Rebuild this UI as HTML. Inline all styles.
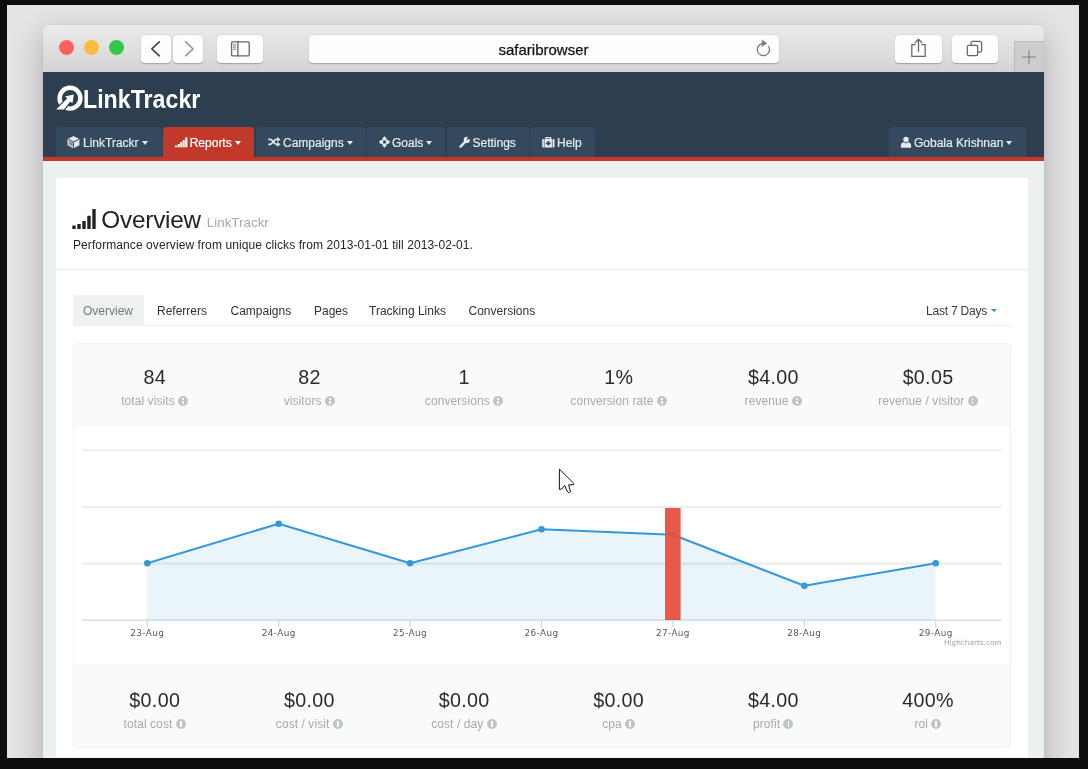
<!DOCTYPE html>
<html lang="en">
<head>
<meta charset="utf-8">
<title>LinkTrackr - Overview</title>
<style>
*{box-sizing:border-box;margin:0;padding:0}
html,body{width:1088px;height:769px;overflow:hidden;background:#0e0e0e}
body{font-family:"Liberation Sans",sans-serif;font-size:12px;color:#333;position:relative}
.abs{position:absolute}
#desk{left:7px;top:5px;width:1072px;height:753px;background:#e4e4e4;overflow:hidden}
#win{left:36px;top:20px;width:1001px;height:760px;border-radius:6px 6px 0 0;background:#ecf0f1;box-shadow:0 12px 30px 3px rgba(0,0,0,.21),0 0 1px rgba(0,0,0,.3);overflow:hidden}
/* everything inside #win uses window coordinates: origin = (43,25) in page */
#tbar{left:0;top:0;width:1001px;height:47px;background:linear-gradient(#ebebeb,#d4d4d4)}
.btn{background:#fdfdfd;border-radius:4px;box-shadow:0 .6px 1.2px rgba(0,0,0,.26);height:27.5px;top:10px}
.tl{width:15px;height:15px;border-radius:50%;top:15px}
#hdr{left:0;top:47px;width:1001px;height:85px;background:#2c3e50}
#redbar{left:0;top:132px;width:1001px;height:4px;background:#c8362a}
.nt{top:102px;height:30px;background:#34495e;border-radius:3px 3px 0 0;color:#e3e8ea;font-size:12px;line-height:30px;white-space:nowrap;-webkit-text-stroke:.22px currentColor}
.nt.on{background:#c0392b;color:#fff}
.nt span{position:absolute;top:.6px}
.caret{position:absolute;width:0;height:0;border-left:3.9px solid transparent;border-right:3.9px solid transparent;border-top:4.3px solid currentColor;top:13.8px;margin-left:-.4px}
#panel{left:13px;top:153px;width:972px;height:700px;background:#fff;border-radius:3px}
.tab{top:270px;height:31px;line-height:32.2px;font-size:12px;color:#3a3a3a;white-space:nowrap}
.num{font-size:19.7px;letter-spacing:.3px;padding-left:.3px;color:#2b2b2b;text-align:center;width:155px;white-space:nowrap;line-height:20px}
.lbl{font-size:12px;letter-spacing:.08px;color:#a9a9a9;text-align:center;width:155px;white-space:nowrap;line-height:14px}
.lbl i{display:inline-block;width:10px;height:10px;border-radius:50%;background:#bcc5ca;vertical-align:-1.1px;margin-left:3.3px;position:relative}
.lbl i:before{content:"";position:absolute;left:4.1px;top:1.8px;width:1.8px;height:1.7px;background:#fafafa}
.lbl i:after{content:"";position:absolute;left:4.1px;top:4.2px;width:1.8px;height:3.8px;background:#fafafa}
</style>
</head>
<body>
<div id="desk" class="abs">
<div id="win" class="abs">

<!-- ===== Safari title bar ===== -->
<div id="tbar" class="abs">
  <div class="abs tl" style="left:16.1px;background:#fc615d"></div>
  <div class="abs tl" style="left:41.1px;background:#fdbc40"></div>
  <div class="abs tl" style="left:66.1px;background:#34c84a"></div>
  <div class="abs btn" style="left:98px;width:30px"></div>
  <div class="abs btn" style="left:130px;width:30px"></div>
  <div class="abs btn" style="left:174px;width:46px"></div>
  <div class="abs btn" style="left:265.5px;width:470px;text-align:center;line-height:29px;font-size:15px;color:#111;-webkit-text-stroke:.25px #111">safaribrowser</div>
  <div class="abs btn" style="left:852px;width:46.5px"></div>
  <div class="abs btn" style="left:908.5px;width:46px"></div>
  <div class="abs" style="left:971px;top:16px;width:30px;height:31px;background:#cdcdcd;border-left:1px solid #bbb;border-top:1px solid #bbb"></div>
  <svg class="abs" style="left:0;top:0" width="1001" height="47" viewBox="0 0 1001 47" fill="none" stroke="#666" stroke-width="1.6" stroke-linecap="round" stroke-linejoin="round">
    <path d="M116.3 16.8 L108.8 23.8 L116.3 30.8" stroke="#444"/>
    <path d="M142.6 16.8 L150.1 23.8 L142.6 30.8" stroke="#9a9a9a"/>
    <rect x="188.6" y="16.9" width="17.6" height="14" rx="1.2" stroke-width="1.3"/>
    <path d="M194.9 16.9 V30.9" stroke-width="1.3"/>
    <path d="M190.4 19.8h2.4M190.4 22h2.4M190.4 24.2h2.4" stroke-width=".9"/>
    <path d="M720.6 18.5 a6.1 6.1 0 1 0 5 3" stroke-width="1.2" stroke="#757575"/>
    <path d="M719.4 15.2 L723.6 18.3 L719.2 21.3 Z" stroke-width=".6" stroke="#757575" fill="#757575"/>
    <path d="M872.2 19.6 h-3.4 v11.8 h13.4 v-11.8 h-3.4" stroke-width="1.25"/>
    <path d="M875.5 26.5 V14.6 M872.2 17.6 L875.5 14.3 L878.8 17.6" stroke-width="1.25"/>
    <rect x="924.3" y="20.3" width="10.4" height="10.4" rx="1.6" stroke-width="1.25"/>
    <path d="M928 20.3 v-2.3 a1.6 1.6 0 0 1 1.6 -1.6 h7.4 a1.6 1.6 0 0 1 1.6 1.6 v7.4 a1.6 1.6 0 0 1 -1.6 1.6 h-2.3" stroke-width="1.25"/>
    <path d="M979.5 32 h13 M986 25.5 v13" stroke="#808080" stroke-width="1.1"/>
  </svg>
</div>

<!-- ===== App header ===== -->
<div id="hdr" class="abs"></div>
<div id="redbar" class="abs"></div>

<!-- logo -->
<svg class="abs" style="left:7px;top:55px" width="40" height="36" viewBox="50 80 40 36" fill="none">
  <circle cx="70" cy="98.2" r="10.4" stroke="#fff" stroke-width="4.4"/>
  <path d="M56.2 109.5 L63.9 109.5 L70.3 101.6 L72.4 103.2 L73.9 94.4 L64.9 96.5 L67.4 98.3 Z" fill="#fff" stroke="#2c3e50" stroke-width="2.4" stroke-linejoin="round" paint-order="stroke"/>
  <path d="M53 109.9 H57 L56 112 H52 Z" fill="#2c3e50"/>
</svg>
<div class="abs" style="left:40.3px;top:59.4px;font-size:26px;font-weight:bold;color:#fff;line-height:30px;white-space:nowrap;transform:scaleX(.892);transform-origin:0 0">LinkTrackr</div>

<!-- nav tabs -->
<div class="abs nt" style="left:13px;width:106px"><span style="left:27px">LinkTrackr</span><b class="caret" style="left:86px"></b></div>
<div class="abs nt on" style="left:120.2px;width:90.6px"><span style="left:26.5px">Reports</span><b class="caret" style="left:72px"></b></div>
<div class="abs nt" style="left:213px;width:110px"><span style="left:27px">Campaigns</span><b class="caret" style="left:91px"></b></div>
<div class="abs nt" style="left:324px;width:78px"><span style="left:25px">Goals</span><b class="caret" style="left:59px"></b></div>
<div class="abs nt" style="left:403.5px;width:82px"><span style="left:26px">Settings</span></div>
<div class="abs nt" style="left:487px;width:65px"><span style="left:27px">Help</span></div>
<div class="abs nt" style="left:846px;width:137px"><span style="left:25px">Gobala Krishnan</span><b class="caret" style="left:117px"></b></div>

<!-- nav icons -->
<svg class="abs" style="left:0;top:102px" width="1001" height="30" viewBox="43 127 1001 30" fill="#e3e8ea">
  <path d="M73.5 135.9 L79.4 138.9 V145.2 L73.5 148.2 L67.6 145.2 V138.9 Z"/>
  <path d="M68.2 139.4 L73.5 142 L78.8 139.4 M73.5 142 V147.6" stroke="#34495e" stroke-width="1" fill="none"/>
  <path d="M69 141 L72.6 142.8 V146.6 L69 144.8 Z" fill="#34495e" fill-opacity=".55"/>
  <path d="M175 147.2 V145.6 H177.5 V144 H180 V142 H182.5 V140 H185 V137.6 H187.4 V147.2 Z" fill="#fff"/>
  <path d="M182.45 140.5V147M184.95 138.5V147M179.95 142.5V147M177.45 144.5V147" stroke="#c0392b" stroke-width=".5"/>
  <g stroke="#e3e8ea" stroke-width="1.7" fill="none">
    <path d="M268.3 139.4 h2 c2.6 0 3.4 4.9 6 4.9 h1.6"/>
    <path d="M268.3 144.3 h2 c2.6 0 3.4 -4.9 6 -4.9 h1.6"/>
  </g>
  <path d="M277.3 136.8 L280.4 139.4 L277.3 142 Z M277.3 141.7 L280.4 144.3 L277.3 146.9 Z"/>
  <path d="M384.5 136.3 L390.2 142 L384.5 147.7 L378.8 142 Z"/>
  <path d="M380.9 138.4 L382.3 139.8 M388.1 138.4 L386.7 139.8 M380.9 145.6 L382.3 144.2 M388.1 145.6 L386.7 144.2" stroke="#34495e" stroke-width="1.5" fill="none"/>
  <rect x="383.1" y="140.6" width="2.8" height="2.8" fill="#2c3e50"/>
  <path d="M460.6 146.6 L465.8 141.2" stroke="#e3e8ea" stroke-width="2.5" stroke-linecap="round"/>
  <circle cx="466.8" cy="139.9" r="3.1"/>
  <path d="M466.6 139.9 L468.2 135.6 L471.4 138.6 Z" fill="#34495e"/>
  <rect x="542.2" y="139" width="12.3" height="8.5" rx="1.2"/>
  <path d="M546 139.2 V137.7 H550.7 V139.2" stroke="#e3e8ea" stroke-width="1.3" fill="none"/>
  <path d="M548.35 141 V145.6 M546.05 143.3 H550.65" stroke="#34495e" stroke-width="1.7"/>
  <path d="M544.3 139V147.5M552.4 139V147.5" stroke="#34495e" stroke-width=".6"/>
  <circle cx="906" cy="139.5" r="2.7"/>
  <path d="M900.9 147.8 V145.4 C900.9 143.2 902.4 142.2 904 142.2 L906 143.4 L908 142.2 C909.6 142.2 911.1 143.2 911.1 145.4 V147.8 Z"/>
</svg>

<!-- ===== Content panel ===== -->
<div id="panel" class="abs"></div>
<svg class="abs" style="left:27px;top:180px" width="30" height="28" viewBox="70 205 30 28" fill="#222"><rect x="72.3" y="225.6" width="3.4" height="3.4" rx=".5"/><rect x="77.3" y="224.1" width="3.4" height="4.9" rx=".5"/><rect x="82.3" y="221" width="3.4" height="8.0" rx=".5"/><rect x="87.3" y="215.8" width="3.4" height="13.2" rx=".5"/><rect x="92.3" y="209" width="3.4" height="20.0" rx=".5"/></svg>
<div class="abs" style="left:58.3px;top:180.9px;font-size:24.3px;line-height:28px;color:#222;white-space:nowrap;letter-spacing:-.2px">Overview</div>
<div class="abs" style="left:163.8px;top:190.1px;font-size:13.4px;line-height:16px;color:#a8a8a8;white-space:nowrap">LinkTrackr</div>
<div class="abs" style="left:30px;top:212.5px;font-size:12px;line-height:14px;color:#262626;white-space:nowrap;letter-spacing:.09px">Performance overview from unique clicks from 2013-01-01 till 2013-02-01.</div>
<div class="abs" style="left:13px;top:244px;width:972px;height:1px;background:#eef0f0"></div>
<div class="abs" style="left:29.5px;top:269.5px;width:71.5px;height:31px;background:#eff2f3;border-radius:3px 3px 0 0"></div>
<div class="abs" style="left:29.5px;top:300px;width:938.5px;height:1px;background:#eef1f1"></div>
<div class="abs tab" style="left:40px;top:269.5px;color:#777">Overview</div>
<div class="abs tab" style="left:114px;top:269.5px;color:#333">Referrers</div>
<div class="abs tab" style="left:187.5px;top:269.5px;color:#333">Campaigns</div>
<div class="abs tab" style="left:271px;top:269.5px;color:#333">Pages</div>
<div class="abs tab" style="left:326px;top:269.5px;color:#333">Tracking Links</div>
<div class="abs tab" style="left:425.5px;top:269.5px;color:#333">Conversions</div>
<div class="abs tab" style="left:883px;top:269.5px;letter-spacing:-.22px">Last 7 Days</div>
<b class="caret" style="left:948px;top:284px;color:#2a8fd8;border-left-width:3.3px;border-right-width:3.3px;border-top-width:3.7px"></b>
<div class="abs" style="left:30px;top:318px;width:938px;height:405px;background:#fafafa;border:1px solid #f1f3f3;border-radius:4px"></div>
<div class="abs" style="left:31px;top:400px;width:936px;height:241px;background:#fff;border-top:1px solid #f3f4f4;border-bottom:1px solid #f3f4f4"></div>
<div class="abs num" style="left:34.12px;top:341.5px">84</div>
<div class="abs lbl" style="left:34.12px;top:369.3px">total visits<i></i></div>
<div class="abs num" style="left:188.77px;top:341.5px">82</div>
<div class="abs lbl" style="left:188.77px;top:369.3px">visitors<i></i></div>
<div class="abs num" style="left:343.43px;top:341.5px">1</div>
<div class="abs lbl" style="left:343.43px;top:369.3px">conversions<i></i></div>
<div class="abs num" style="left:498.08px;top:341.5px">1%</div>
<div class="abs lbl" style="left:498.08px;top:369.3px">conversion rate<i></i></div>
<div class="abs num" style="left:652.73px;top:341.5px">$4.00</div>
<div class="abs lbl" style="left:652.73px;top:369.3px">revenue<i></i></div>
<div class="abs num" style="left:807.38px;top:341.5px">$0.05</div>
<div class="abs lbl" style="left:807.38px;top:369.3px">revenue / visitor<i></i></div>
<div class="abs num" style="left:34.12px;top:664.7px">$0.00</div>
<div class="abs lbl" style="left:34.12px;top:692.2px">total cost<i></i></div>
<div class="abs num" style="left:188.77px;top:664.7px">$0.00</div>
<div class="abs lbl" style="left:188.77px;top:692.2px">cost / visit<i></i></div>
<div class="abs num" style="left:343.43px;top:664.7px">$0.00</div>
<div class="abs lbl" style="left:343.43px;top:692.2px">cost / day<i></i></div>
<div class="abs num" style="left:498.08px;top:664.7px">$0.00</div>
<div class="abs lbl" style="left:498.08px;top:692.2px">cpa<i></i></div>
<div class="abs num" style="left:652.73px;top:664.7px">$4.00</div>
<div class="abs lbl" style="left:652.73px;top:692.2px">profit<i></i></div>
<div class="abs num" style="left:807.38px;top:664.7px">400%</div>
<div class="abs lbl" style="left:807.38px;top:692.2px">roi<i></i></div>
<svg class="abs" style="left:31px;top:401px" width="936" height="240" viewBox="74 426 936 240">
<path d="M82 450.3H1001.5" stroke="#ededed" stroke-width="2.1" fill="none"/>
<path d="M82 507.1H1001.5" stroke="#ededed" stroke-width="2.1" fill="none"/>
<path d="M82 563.6H1001.5" stroke="#ededed" stroke-width="2.1" fill="none"/>
<path d="M82 620.2H1001.5" stroke="#d3dfec" stroke-width="1.6" fill="none"/>
<polygon points="147.3,620 147.3,563.3 278.7,523.7 410.1,563.3 541.5,529.3 672.9,534.8 804.3,585.8 935.7,563.3 935.7,620" fill="#3498db" fill-opacity=".1"/>
<polyline points="147.3,563.3 278.7,523.7 410.1,563.3 541.5,529.3 672.9,534.8 804.3,585.8 935.7,563.3" fill="none" stroke="#3498db" stroke-width="2" stroke-linejoin="round"/>
<circle cx="147.3" cy="563.3" r="3.3" fill="#3498db"/>
<circle cx="278.7" cy="523.7" r="3.3" fill="#3498db"/>
<circle cx="410.1" cy="563.3" r="3.3" fill="#3498db"/>
<circle cx="541.5" cy="529.3" r="3.3" fill="#3498db"/>
<circle cx="672.9" cy="534.8" r="3.3" fill="#3498db"/>
<circle cx="804.3" cy="585.8" r="3.3" fill="#3498db"/>
<circle cx="935.7" cy="563.3" r="3.3" fill="#3498db"/>
<rect x="665" y="508" width="15.6" height="112" fill="#e74c3c" fill-opacity=".93"/>
<path d="M147.3 620.5V627.2" stroke="#ccd9e6" stroke-width="1.3"/>
<path d="M278.7 620.5V627.2" stroke="#ccd9e6" stroke-width="1.3"/>
<path d="M410.1 620.5V627.2" stroke="#ccd9e6" stroke-width="1.3"/>
<path d="M541.5 620.5V627.2" stroke="#ccd9e6" stroke-width="1.3"/>
<path d="M672.9 620.5V627.2" stroke="#ccd9e6" stroke-width="1.3"/>
<path d="M804.3 620.5V627.2" stroke="#ccd9e6" stroke-width="1.3"/>
<path d="M935.7 620.5V627.2" stroke="#ccd9e6" stroke-width="1.3"/>
<text x="147.3" y="635.9" text-anchor="middle" font-family="DejaVu Sans, sans-serif" font-size="8.9" letter-spacing=".4" fill="#595959">23-Aug</text>
<text x="278.7" y="635.9" text-anchor="middle" font-family="DejaVu Sans, sans-serif" font-size="8.9" letter-spacing=".4" fill="#595959">24-Aug</text>
<text x="410.1" y="635.9" text-anchor="middle" font-family="DejaVu Sans, sans-serif" font-size="8.9" letter-spacing=".4" fill="#595959">25-Aug</text>
<text x="541.5" y="635.9" text-anchor="middle" font-family="DejaVu Sans, sans-serif" font-size="8.9" letter-spacing=".4" fill="#595959">26-Aug</text>
<text x="672.9" y="635.9" text-anchor="middle" font-family="DejaVu Sans, sans-serif" font-size="8.9" letter-spacing=".4" fill="#595959">27-Aug</text>
<text x="804.3" y="635.9" text-anchor="middle" font-family="DejaVu Sans, sans-serif" font-size="8.9" letter-spacing=".4" fill="#595959">28-Aug</text>
<text x="935.7" y="635.9" text-anchor="middle" font-family="DejaVu Sans, sans-serif" font-size="8.9" letter-spacing=".4" fill="#595959">29-Aug</text>
<text x="1001.5" y="645.4" text-anchor="end" font-family="DejaVu Sans, sans-serif" font-size="7.3" fill="#a3a3a3">Highcharts.com</text>
<path d="M559.4 469.2 V489.5 L561.7 489 L564.6 485.4 L567 491 L568.8 492.7 L570.5 491.5 L569.3 487.5 L568.7 484.8 L573.7 484.7 L573.7 483.3 Z" fill="#fff" stroke="#15151f" stroke-width="1" stroke-linejoin="round"/>
</svg>

</div>
</div>
</body>
</html>
